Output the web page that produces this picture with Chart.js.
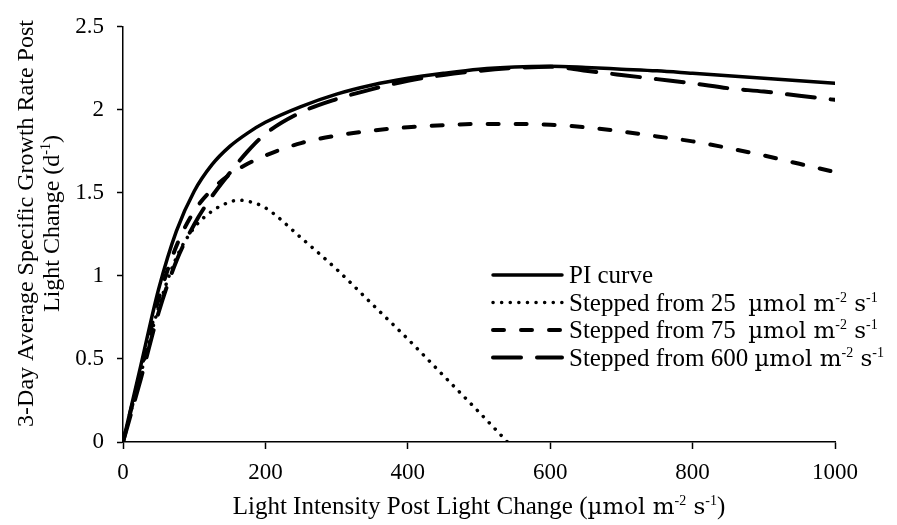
<!DOCTYPE html>
<html>
<head>
<meta charset="utf-8">
<script src="https://cdn.jsdelivr.net/npm/chart.js@4.4.0/dist/chart.umd.min.js"></script>
<style>
  html, body { margin: 0; padding: 0; background: #fff; }
</style>
</head>
<body>
<canvas id="myChart" width="897" height="525"></canvas>
<script>
// light intensities (umol m-2 s-1) where the curves were read
const lightLevels = [0, 25, 50, 75, 100, 125, 150, 175, 200, 250, 300, 350, 400, 450, 500, 550, 600, 650, 700, 750, 800, 850, 900, 950, 1000];
const piCurve = [0, 0.46, 0.92, 1.27, 1.51, 1.67, 1.78, 1.86, 1.925, 2.02, 2.095, 2.15, 2.19, 2.22, 2.245, 2.258, 2.262, 2.255, 2.245, 2.235, 2.22, 2.205, 2.19, 2.175, 2.16];
const from75 = [0, 0.43, 0.86, 1.18, 1.39, 1.52, 1.61, 1.675, 1.725, 1.80, 1.845, 1.875, 1.895, 1.908, 1.915, 1.915, 1.91, 1.895, 1.87, 1.84, 1.81, 1.77, 1.725, 1.675, 1.625];
const from600 = [0, 0.38, 0.78, 1.09, 1.31, 1.48, 1.62, 1.75, 1.855, 1.985, 2.065, 2.125, 2.175, 2.21, 2.235, 2.252, 2.26, 2.235, 2.21, 2.185, 2.16, 2.13, 2.11, 2.085, 2.06];

// the 25 series stops where it hits zero
const lightLevels25 = [0, 25, 50, 75, 100, 125, 150, 162, 175, 200, 250, 300, 350, 400, 450, 500, 540];
const from25 = [0, 0.41, 0.81, 1.11, 1.29, 1.39, 1.445, 1.456, 1.45, 1.41, 1.23, 1.04, 0.83, 0.62, 0.40, 0.18, 0];

const yTicks = [0, 0.5, 1, 1.5, 2, 2.5];

const serif = 'Liberation Serif, Times New Roman, serif';
const unitFont = 'DejaVu Serif, serif';

const legendLabels = [
  [{ t: 'PI curve' }],
  [{ t: 'Stepped from 25  ' }, { t: 'µmol m', u: true }, { t: '-2', sup: true }, { t: ' s', u: true }, { t: '-1', sup: true }],
  [{ t: 'Stepped from 75  ' }, { t: 'µmol m', u: true }, { t: '-2', sup: true }, { t: ' s', u: true }, { t: '-1', sup: true }],
  [{ t: 'Stepped from 600 ' }, { t: 'µmol m', u: true }, { t: '-2', sup: true }, { t: ' s', u: true }, { t: '-1', sup: true }],
];
const xTitle = [{ t: 'Light Intensity Post Light Change (' }, { t: 'µmol m', u: true }, { t: '-2', sup: true }, { t: ' s', u: true }, { t: '-1', sup: true }, { t: ')' }];
const yTitle1 = [{ t: '3-Day Average Specific Growth Rate Post' }];
const yTitle2 = [{ t: 'Light Change (d' }, { t: '-1', sup: true }, { t: ')' }];

function pts(xs, ys) {
  return xs.map((x, i) => ({ x, y: ys[i] }));
}

function partFont(p, size) {
  if (p.sup) return Math.round(size * 0.58) + 'px ' + serif;
  if (p.u) return Math.round(size * 0.9) + 'px ' + unitFont;
  return size + 'px ' + serif;
}

// text with small raised superscripts
function drawRich(c, parts, x, y, size, center) {
  let w = 0;
  parts.forEach((p) => {
    c.font = partFont(p, size);
    w += c.measureText(p.t).width;
  });
  let cx = center ? x - w / 2 : x;
  parts.forEach((p) => {
    c.font = partFont(p, size);
    c.fillText(p.t, cx, p.sup ? y - size * 0.36 : y);
    cx += c.measureText(p.t).width;
  });
}

// legend inside the plot + axis titles
const extras = {
  id: 'extras',
  afterDatasetsDraw(chart) {
    const c = chart.ctx;
    const x0 = 493;
    const x1 = 562;
    const tx = 569;
    const top = 275;
    const row = 27.5;
    c.save();
    chart.data.datasets.forEach((ds, i) => {
      const y = top + i * row;
      c.beginPath();
      c.lineWidth = ds.borderWidth;
      c.lineCap = ds.borderCapStyle;
      c.setLineDash(ds.borderDash || []);
      c.strokeStyle = '#000';
      c.moveTo(x0, y);
      c.lineTo(x1, y);
      c.stroke();
      c.setLineDash([]);
      c.fillStyle = '#000';
      c.textBaseline = 'alphabetic';
      drawRich(c, legendLabels[i], tx, y + 8, 25, false);
    });

    const area = chart.chartArea;
    drawRich(c, xTitle, (area.left + area.right) / 2, 514, 25, true);

    c.translate(33, 223.5);
    c.rotate(-Math.PI / 2);
    drawRich(c, yTitle1, 0, 0, 24, true);
    drawRich(c, yTitle2, 0, 25.5, 24, true);
    c.restore();
  },
};

const ctx = document.querySelector('#myChart');

// eslint-disable-next-line no-unused-vars
const lineChart = new Chart(ctx, {
  type: 'line',
  data: {
    datasets: [{
      label: 'PI curve',
      data: pts(lightLevels, piCurve),
      borderColor: '#000',
      borderWidth: 3.5,
      borderCapStyle: 'round',
    }, {
      label: 'Stepped from 25',
      data: pts(lightLevels25, from25),
      borderColor: '#000',
      borderWidth: 3.5,
      borderDash: [0.1, 8.5],
      borderCapStyle: 'round',
    }, {
      label: 'Stepped from 75',
      data: pts(lightLevels, from75),
      borderColor: '#000',
      borderWidth: 4,
      borderDash: [11, 17],
      borderCapStyle: 'round',
    }, {
      label: 'Stepped from 600',
      data: pts(lightLevels, from600),
      borderColor: '#000',
      borderWidth: 4,
      borderDash: [28, 16],
      borderCapStyle: 'round',
    }],
  },
  options: {
    responsive: false,
    animation: false,
    devicePixelRatio: 1,
    layout: { padding: { top: 14, right: 62, bottom: 0, left: 0 } },
    elements: {
      point: { radius: 0 },
      line: { cubicInterpolationMode: 'monotone', fill: false },
    },
    plugins: {
      legend: { display: false },
      tooltip: { enabled: false },
    },
    scales: {
      x: {
        type: 'linear',
        min: 0,
        max: 1000,
        ticks: {
          stepSize: 200,
          color: '#000',
          font: { family: serif, size: 23 },
          padding: 10,
          maxRotation: 0,
          callback: (v) => String(v),
        },
        grid: { drawOnChartArea: false, color: '#000', tickLength: 7, tickWidth: 1.5 },
        border: { color: '#000', width: 1.5 },
        afterFit(axis) { axis.height = 83; },
      },
      y: {
        min: 0,
        max: 2.5,
        afterBuildTicks(axis) { axis.ticks = yTicks.map((v) => ({ value: v })); },
        ticks: {
          color: '#000',
          font: { family: serif, size: 23 },
          padding: 13,
          callback: (v) => String(v),
        },
        grid: { drawOnChartArea: false, color: '#000', tickLength: 6, tickWidth: 1.5 },
        border: { color: '#000', width: 1.5 },
        afterFit(axis) { axis.width = 123; },
      },
    },
  },
  plugins: [extras],
});
</script>
</body>
</html>
